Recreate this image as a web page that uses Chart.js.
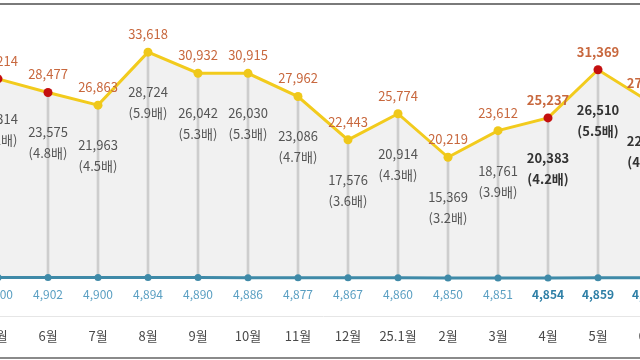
<!DOCTYPE html>
<html><head><meta charset="utf-8">
<script src="https://cdn.jsdelivr.net/npm/chart.js@4/dist/chart.umd.min.js"></script>
<style>
html,body{margin:0;padding:0;width:640px;height:360px;overflow:hidden;background:#fff;position:relative}
#c{position:absolute;left:-27px;top:0}
.tb{position:absolute;left:0;width:640px;height:2px;background:#7a7a7a}
</style></head><body>
<canvas id="c" width="700" height="360"></canvas>
<div class="tb" style="top:3px"></div>
<div class="tb" style="top:357px;background:#8a8a8a"></div>
<script>
const categories = ['5월','6월','7월','8월','9월','10월','11월','12월','25.1월','2월','3월','4월','5월','6월'];
const totalValues = [30214, 28477, 26863, 33618, 30932, 30915, 27962, 22443, 25774, 20219, 23612, 25237, 31369, 27380];
const baseValues  = [4900, 4902, 4900, 4894, 4890, 4886, 4877, 4867, 4860, 4850, 4851, 4854, 4859, 4865];
const diffValues  = [25314, 23575, 21963, 28724, 26042, 26030, 23086, 17576, 20914, 15369, 18761, 20383, 26510, 22515];
const ratioValues = [5.2, 4.8, 4.5, 5.9, 5.3, 5.3, 4.7, 3.6, 4.3, 3.2, 3.9, 4.2, 5.5, 4.6];
const highlight   = [true, true, false, false, false, false, false, false, false, false, false, true, true, true];
const boldLabel   = [false, false, false, false, false, false, false, false, false, false, false, true, true, true];

const fmt = v => v.toLocaleString('en-US');
const FONT = '"Noto Sans CJK KR", "Noto Sans", sans-serif';

const labelPlugin = {
  id: 'labels',
  afterDatasetsDraw(chart) {
    const ctx = chart.ctx;
    const top = chart.getDatasetMeta(0).data;
    const base = chart.getDatasetMeta(1).data;
    ctx.save();
    ctx.textAlign = 'center';
    ctx.textBaseline = 'middle';
    top.forEach((p, i) => {
      const b = boldLabel[i] ? 'bold ' : '';
      ctx.font = b + '13px ' + FONT;
      ctx.fillStyle = '#c8683e';
      ctx.fillText(fmt(totalValues[i]), p.x, p.y - 18);
      ctx.fillStyle = boldLabel[i] ? '#333' : '#555';
      ctx.fillText(fmt(diffValues[i]), p.x, p.y + 40);
      ctx.fillText('(' + ratioValues[i].toFixed(1) + '배)', p.x, p.y + 61);
    });
    base.forEach((p, i) => {
      ctx.font = (boldLabel[i] ? 'bold ' : '') + '12px ' + FONT;
      ctx.fillStyle = boldLabel[i] ? '#2e7fa6' : '#5a9fc2';
      ctx.fillText(fmt(baseValues[i]), p.x, p.y + 17);
    });
    ctx.restore();
  }
};

new Chart(document.getElementById('c'), {
  data: {
    labels: categories,
    datasets: [
      {
        type: 'line', data: totalValues, order: 1,
        borderColor: '#f2cb1d', borderWidth: 3, tension: 0,
        pointRadius: 4.5, pointBorderWidth: 0,
        pointBackgroundColor: highlight.map(h => h ? '#c40f0f' : '#efc81a'),
        fill: { target: 1 }, backgroundColor: '#f1f1f1'
      },
      {
        type: 'line', data: baseValues, order: 2,
        borderColor: '#3f8aa8', borderWidth: 3, tension: 0,
        pointRadius: 3.5, pointBorderWidth: 0, pointBackgroundColor: '#3f8aa8',
        fill: false
      },
      {
        type: 'bar', data: baseValues.map((b, i) => [b, totalValues[i]]), order: 3,
        backgroundColor: '#cdcdcd', barThickness: 2
      }
    ]
  },
  options: {
    responsive: false, animation: false,
    layout: { padding: 0, autoPadding: false },
    plugins: { legend: { display: false }, tooltip: { enabled: false }, filler: { drawTime: 'beforeDatasetsDraw' } },
    scales: {
      x: {
        offset: true,
        grid: { display: false, drawTicks: false },
        border: { display: true, color: '#e6e6e6', width: 1 },
        ticks: { font: { family: FONT, size: 13 }, color: '#4a4a4a', padding: 12, maxRotation: 0, autoSkip: false },
        afterFit(s) { s.height = 44; }
      },
      y: { display: false, min: 0, max: 40260 }
    }
  },
  plugins: [labelPlugin]
});
</script>
</body></html>
